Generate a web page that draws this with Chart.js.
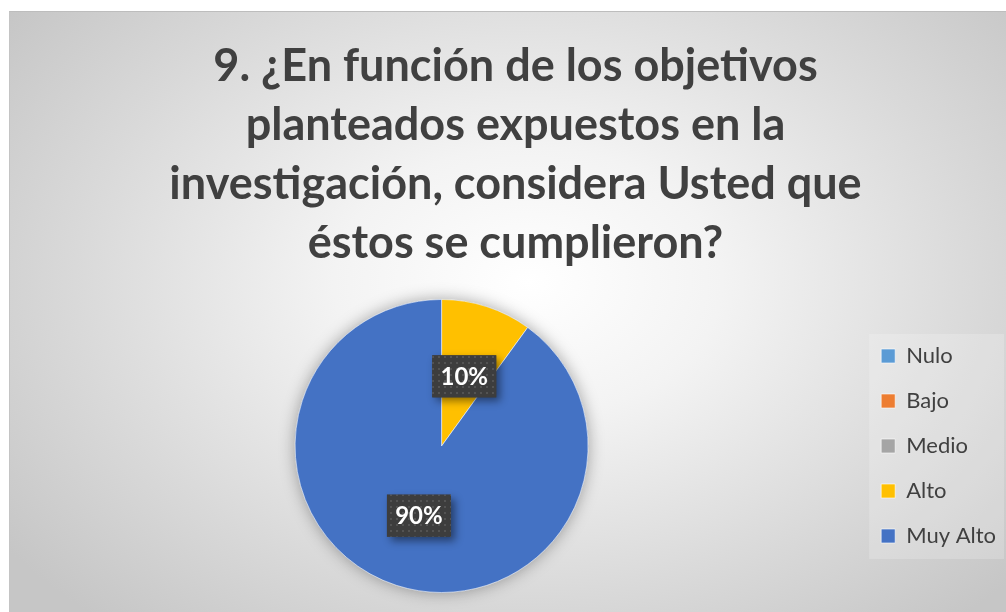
<!DOCTYPE html>
<html>
<head>
<meta charset="utf-8">
<script src="https://cdn.jsdelivr.net/npm/chart.js@4"></script>
<style>
  body { margin: 0; background: #fff; }
  #wrap {
    position: absolute; left: 9px; top: 11px; width: 997px; height: 601px;
    box-sizing: border-box;
    border-top: 1px solid #bdbdbd; border-left: 1px solid #c4c4c4;
    background: radial-gradient(ellipse 65% 75% at 52% 45%, #ffffff 0%, #f3f3f3 30%, #d9d9d9 70%, #c6c6c6 100%);
  }
  canvas { display: block; }
</style>
</head>
<body>
<div id="wrap"><canvas id="grafico" width="996" height="600"></canvas></div>
<script>
const categorias = ['Nulo', 'Bajo', 'Medio', 'Alto', 'Muy Alto'];
const valores = [0, 0, 0, 1, 9];
const colores = ['#5B9BD5', '#ED7D31', '#A5A5A5', '#FFC000', '#4472C4'];
const titulo = [
  '9. ¿En función de los objetivos',
  'planteados expuestos en la',
  'investigación, considera Usted que',
  'éstos se cumplieron?'
];

// patron de puntos para las etiquetas
function crearPatron(ctx) {
  const c = document.createElement('canvas');
  c.width = 6; c.height = 6;
  const p = c.getContext('2d');
  p.fillStyle = '#3d3d3d';
  p.fillRect(0, 0, 6, 6);
  p.fillStyle = '#535353';
  p.fillRect(2, 2, 2, 2);
  return ctx.createPattern(c, 'repeat');
}

const fondoLeyenda = {
  id: 'fondoLeyenda',
  beforeDraw(chart) {
    const cajas = chart.legend.legendHitBoxes;
    if (!cajas || !cajas.length) return;
    const ctx = chart.ctx;
    const first = cajas[0], last = cajas[cajas.length - 1];
    const top = first.top + first.height / 2 - 22;
    const bottom = last.top + last.height / 2 + 23;
    const left = first.left - 12;
    ctx.save();
    ctx.fillStyle = 'rgba(255,255,255,0.2)';
    ctx.fillRect(left, top, chart.width - 2 - left, bottom - top);
    ctx.restore();
  }
};

const sombraPastel = {
  id: 'sombraPastel',
  beforeDatasetsDraw(chart) {
    const arc = chart.getDatasetMeta(0).data[0];
    if (!arc) return;
    const ctx = chart.ctx;
    ctx.save();
    ctx.shadowColor = 'rgba(0,0,0,0.35)';
    ctx.shadowBlur = 16;
    ctx.fillStyle = colores[4];
    ctx.beginPath();
    ctx.arc(arc.x, arc.y, arc.outerRadius, 0, Math.PI * 2);
    ctx.fill();
    ctx.restore();
  }
};

const etiquetas = {
  id: 'etiquetas',
  afterDatasetsDraw(chart) {
    const ctx = chart.ctx;
    const total = valores.reduce((a, b) => a + b, 0);
    const patron = crearPatron(ctx);
    chart.getDatasetMeta(0).data.forEach((arc, i) => {
      if (!valores[i]) return;
      const p = arc.getCenterPoint();
      const texto = Math.round(valores[i] / total * 100) + '%';
      const w = 64, h = 42;
      ctx.save();
      ctx.shadowColor = 'rgba(0,0,0,0.45)';
      ctx.shadowBlur = 8;
      ctx.shadowOffsetX = 4;
      ctx.shadowOffsetY = 4;
      ctx.fillStyle = '#3d3d3d';
      ctx.fillRect(p.x - w / 2, p.y - h / 2, w, h);
      ctx.restore();
      ctx.save();
      ctx.fillStyle = patron;
      ctx.fillRect(p.x - w / 2, p.y - h / 2, w, h);
      ctx.fillStyle = '#ffffff';
      ctx.font = 'bold 24px Lato';
      ctx.textAlign = 'center';
      ctx.textBaseline = 'middle';
      ctx.fillText(texto, p.x, p.y + 1);
      ctx.restore();
    });
  }
};

new Chart(document.getElementById('grafico'), {
  type: 'pie',
  data: {
    labels: categorias,
    datasets: [{
      data: valores,
      backgroundColor: colores,
      borderColor: 'rgba(255,255,255,0.6)',
      borderWidth: 1
    }]
  },
  options: {
    responsive: false,
    animation: false,
    layout: { padding: { left: 15, bottom: 19 } },
    plugins: {
      title: {
        display: true,
        text: titulo,
        color: '#404040',
        font: { family: 'Lato', size: 45, weight: 'bold', lineHeight: 1.311 },
        padding: { top: 25, bottom: 26 }
      },
      legend: {
        position: 'right',
        fullSize: false,
        labels: {
          boxWidth: 14,
          boxHeight: 14,
          padding: 23,
          color: '#404040',
          font: { family: 'Lato', size: 22 }
        }
      },
      tooltip: { enabled: false }
    }
  },
  plugins: [fondoLeyenda, sombraPastel, etiquetas]
});
</script>
</body>
</html>
